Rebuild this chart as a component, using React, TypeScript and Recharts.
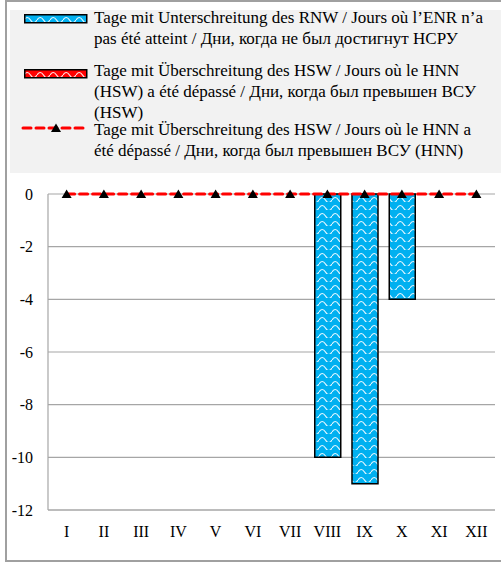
import React from "react";
import {
  ComposedChart,
  Bar,
  Line,
  XAxis,
  YAxis,
  CartesianGrid,
} from "recharts";

const months = ["I", "II", "III", "IV", "V", "VI", "VII", "VIII", "IX", "X", "XI", "XII"];
const belowRnw = [0, 0, 0, 0, 0, 0, 0, -10, -11, -4, 0, 0];
const aboveHsw = [0, 0, 0, 0, 0, 0, 0, 0, 0, 0, 0, 0];
const aboveHnn = [0, 0, 0, 0, 0, 0, 0, 0, 0, 0, 0, 0];
const yTicks = [0, -2, -4, -6, -8, -10, -12];

const legendLabels = [
  "Tage mit Unterschreitung des RNW / Jours où l’ENR n’a pas été atteint / Дни, когда не был достигнут НСРУ",
  "Tage mit Überschreitung des HSW / Jours où le HNN (HSW) a été dépassé / Дни, когда был превышен ВСУ (HSW)",
  "Tage mit Überschreitung des HSW / Jours où le HNN a été dépassé / Дни, когда был превышен ВСУ (HNN)",
];

const data = months.map((m, i) => ({
  month: m,
  rnw: belowRnw[i],
  hsw: aboveHsw[i],
  hnn: aboveHnn[i],
}));

const FONT = '"Liberation Serif", "Times New Roman", serif';

// wavy fill patterns, like the excel ones
const Patterns = () => (
  <defs>
    <pattern id="waveBlue" width="13" height="8" patternUnits="userSpaceOnUse">
      <rect width="13" height="8" fill="#00b0f0" />
      <path d="M0 6 Q3.25 1 6.5 6 T13 6" fill="none" stroke="#e6f7ff" strokeWidth="1.2" />
    </pattern>
    <pattern id="waveRed" width="13" height="8" patternUnits="userSpaceOnUse">
      <rect width="13" height="8" fill="#ff0000" />
      <path d="M0 6 Q3.25 1 6.5 6 T13 6" fill="none" stroke="#ffe6e6" strokeWidth="1.2" />
    </pattern>
  </defs>
);

const Triangle = (props: any) => {
  const { cx, cy, index } = props;
  if (cx == null || cy == null) return <g key={index} />;
  return (
    <path
      key={index}
      d={`M${cx},${cy - 4.5} L${cx + 5},${cy + 4} L${cx - 5},${cy + 4} Z`}
      fill="#000"
    />
  );
};

const textStyle: React.CSSProperties = {
  position: "absolute",
  left: 87,
  width: 398,
  fontFamily: FONT,
  fontSize: 17,
  lineHeight: "21px",
  color: "#000",
};

const App = () => {
  return (
    <div
      style={{
        position: "absolute",
        left: 5,
        top: 0,
        width: 520,
        height: 562,
        boxSizing: "border-box",
        border: "2px solid #a0a0a0",
        background: "#fff",
        overflow: "hidden",
      }}
    >
      {/* legend block */}
      <div
        style={{
          position: "absolute",
          left: 3,
          top: 8,
          width: 510,
          height: 163,
          background: "#f2f2f2",
        }}
      />
      <svg style={{ position: "absolute", left: 17, top: 12 }} width={64} height={10}>
        <rect x={0.75} y={0.75} width={62} height={8} fill="url(#waveBlue)" stroke="#000" strokeWidth={1.5} />
      </svg>
      <svg style={{ position: "absolute", left: 17, top: 67 }} width={64} height={10}>
        <rect x={0.75} y={0.75} width={62} height={8} fill="url(#waveRed)" stroke="#000" strokeWidth={1.5} />
      </svg>
      <svg style={{ position: "absolute", left: 14, top: 119 }} width={66} height={14}>
        <line x1={2} y1={7} x2={63} y2={7} stroke="#ff0000" strokeWidth={3} strokeDasharray="8 5" strokeLinecap="round" />
        <path d="M35,2.5 L40,11 L30,11 Z" fill="#000" />
      </svg>
      <div style={{ ...textStyle, top: 5 }}>{legendLabels[0]}</div>
      <div style={{ ...textStyle, top: 58 }}>{legendLabels[1]}</div>
      <div style={{ ...textStyle, top: 117 }}>{legendLabels[2]}</div>

      <div style={{ position: "absolute", left: 0, top: 0 }}>
        <ComposedChart
          width={496}
          height={558}
          data={data}
          margin={{ top: 192, right: 8, bottom: 20, left: 0 }}
          barSize={26}
        >
          <Patterns />
          <CartesianGrid vertical={false} stroke="#a6a6a6" strokeWidth={1.2} />
          <XAxis
            dataKey="month"
            height={30}
            axisLine={{ stroke: "#a6a6a6", strokeWidth: 1.2 }}
            tickLine={false}
            tickMargin={10}
            tick={{ fill: "#000", fontFamily: FONT, fontSize: 16 }}
            interval={0}
          />
          <YAxis
            width={41}
            domain={[-12, 0]}
            ticks={yTicks}
            interval={0}
            axisLine={{ stroke: "#a6a6a6", strokeWidth: 1.2 }}
            tickLine={false}
            tickMargin={9}
            tick={{ fill: "#000", fontFamily: FONT, fontSize: 16 }}
          />
          <Bar dataKey="rnw" stackId="a" fill="url(#waveBlue)" stroke="#000" strokeWidth={1.5} isAnimationActive={false} />
          <Bar dataKey="hsw" stackId="a" fill="url(#waveRed)" stroke="#000" strokeWidth={1.5} isAnimationActive={false} />
          <Line
            dataKey="hnn"
            type="linear"
            stroke="#ff0000"
            strokeWidth={3}
            strokeDasharray="8 5"
            strokeLinecap="round"
            dot={Triangle}
            activeDot={false}
            isAnimationActive={false}
          />
        </ComposedChart>
      </div>
    </div>
  );
};

export default App;
